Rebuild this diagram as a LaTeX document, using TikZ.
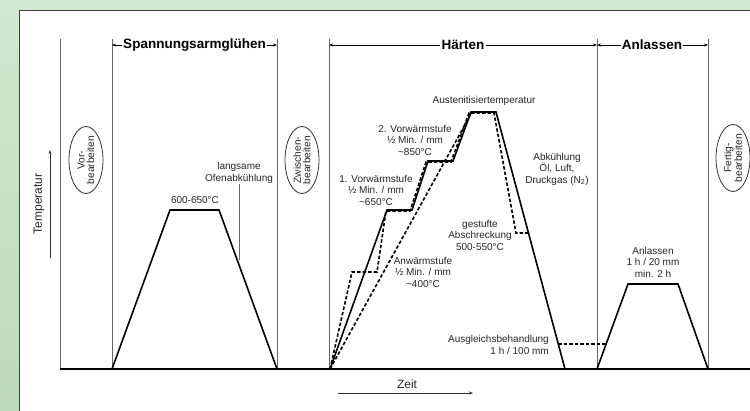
\documentclass[tikz,border=0pt]{standalone}
\usepackage{fontspec}
\setmainfont{Liberation Sans}
\usetikzlibrary{arrows.meta}
\usetikzlibrary{shapes.geometric}
\definecolor{bgtop}{RGB}{210,231,209}
\definecolor{bgbottom}{RGB}{188,219,184}

\begin{document}
\begin{tikzpicture}[x=1pt,y=-1pt,
      stage line/.style={draw=black!60,line width=0.9pt},
      curve/.style={line width=1.6pt,line join=miter},
      curve dashed/.style={curve,dash pattern=on 3.5pt off 2pt},
      phase/.style={font=\fontsize{13.5}{15}\selectfont\bfseries,inner sep=1pt},
      phase arrow/.style={-{Stealth[length=4pt,width=3pt]},line width=0.8pt},
      step label/.style={font=\fontsize{10}{11.5}\selectfont,align=center,inner sep=0pt,text=black!85},
      work/.style={ellipse,draw=black!80,line width=0.8pt,inner xsep=-8pt,inner ysep=0pt,
        minimum width=67pt,minimum height=34pt,rotate=90,align=center,
        font=\fontsize{10.2}{9.5}\selectfont,text=black!85},
      axis label/.style={font=\fontsize{12}{14}\selectfont,inner sep=0pt,text=black!85},
      axis arrow/.style={-{Stealth[length=4pt,width=3pt]},line width=0.8pt,draw=black!80},
    ]
    \useasboundingbox (0,0) rectangle (750,411);
    \clip (0,0) rectangle (750,411);
    \fill[top color=bgtop,bottom color=bgbottom] (0,0) rectangle (750,411);
    \draw[fill=white,draw=black!75,line width=1pt] (19,11) rectangle (760,420);

    % stages
    \foreach \x in {60,112,277,329,597,708}
      \draw[stage line] (\x,39) -- (\x,369);
    \draw[line width=1.3pt] (60,369) -- (760,369);

    \node[phase] (spannung) at (194.5,45) {Spannungsarmglühen};
    \node[phase] (haerten) at (463,45) {Härten};
    \node[phase] (anlassen) at (652,45) {Anlassen};
    \coordinate (spannung l) at (112,45);
    \coordinate (spannung r) at (277,45);
    \coordinate (haerten l) at (329,45);
    \coordinate (haerten r) at (597,45);
    \coordinate (anlassen r) at (708,45);
    \draw[phase arrow] (spannung) -- (spannung l);
    \draw[phase arrow] (spannung) -- (spannung r);
    \draw[phase arrow] (haerten) -- (haerten l);
    \draw[phase arrow] (haerten) -- (haerten r);
    \draw[phase arrow] (anlassen) -- (haerten r);
    \draw[phase arrow] (anlassen) -- (anlassen r);

    \node[work] (vor) at (86,160) {Vor-\\bearbeiten};
    \node[work] (zwischen) at (302,160) {Zwischen-\\bearbeiten};
    \node[work] (fertig) at (733,158) {Fertig-\\bearbeiten};

    % axes
    \coordinate (temp start) at (50,258);
    \coordinate (temp end) at (50,150);
    \draw[axis arrow] (temp start) -- (temp end);
    \node[axis label,rotate=90] (temperatur) at (39,204) {Temperatur};
    \coordinate (zeit start) at (338,393);
    \coordinate (zeit end) at (473,393);
    \draw[axis arrow] (zeit start) -- (zeit end);
    \node[axis label] (zeit) at (407,384) {Zeit};

    % Spannungsarmgluehen
    \draw[curve] (112,369) -- (170,210) -- (219,210) -- (277,369);
    \node[step label] (spannung temp) at (195,200) {600-650°C};
    \node[step label] (ofen) at (239,173) {langsame\\Ofenabkühlung};
    \coordinate (ofen end) at (239,260);
    \draw[stage line] (ofen) -- (ofen end);

    % Haerten
    \draw[curve] (330,369) -- (387,210) -- (412,210) -- (428,161) -- (453,161)
      -- (471,112) -- (496,112) -- (565,369);
    \draw[curve dashed] (330,369) -- (352,272) -- (377,272) -- (386,211) -- (410,211)
      -- (426,162) -- (451,162) -- (469,113) -- (494,113) -- (516,233) -- (528,233);
    \draw[curve dashed] (330,369) -- (472,112);
    \draw[curve dashed] (558,344) -- (606,344);
    \node[step label] (austenit) at (484,101) {Austenitisiertemperatur};
    \node[step label] (vorwaerm1) at (376,190) {1. Vorwärmstufe\\½ Min. / mm\\\textasciitilde650°C};
    \node[step label] (vorwaerm2) at (415,140) {2. Vorwärmstufe\\½ Min. / mm\\\textasciitilde850°C};
    \node[step label] (anwaerm) at (423,272) {Anwärmstufe\\½ Min. / mm\\\textasciitilde400°C};
    \node[step label] (abkuehl) at (557,169) {Abkühlung\\Öl, Luft,\\Druckgas (N\textsubscript{2})};
    \node[step label] (gestuft) at (480,235) {gestufte\\Abschreckung\\500-550°C};
    \node[step label,align=right,anchor=east] (ausgleich) at (549,345) {Ausgleichsbehandlung\\1 h / 100 mm};

    % Anlassen
    \draw[curve] (597,369) -- (628,284) -- (678,284) -- (708,369);
    \node[step label] (anlass temp) at (653,262) {Anlassen\\1 h / 20 mm\\min. 2 h};
  \end{tikzpicture}
\end{document}
